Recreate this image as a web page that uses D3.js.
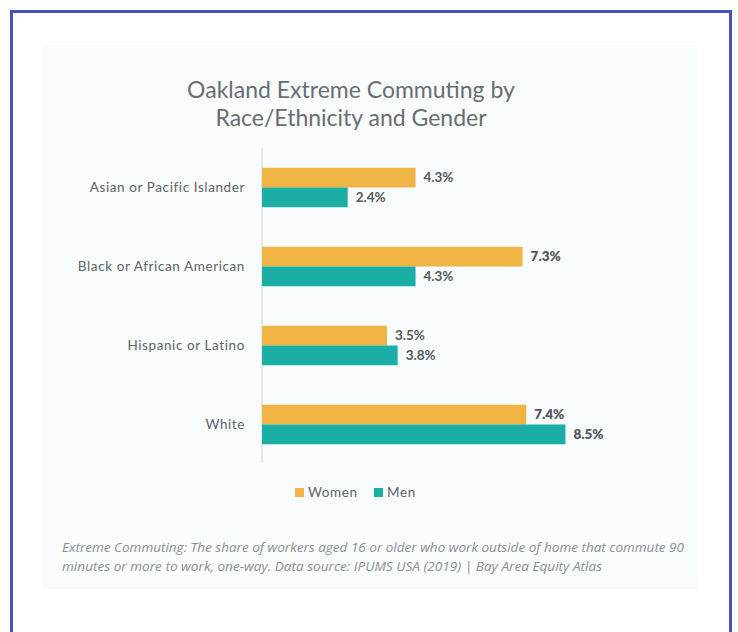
<!DOCTYPE html>
<html>
<head>
<meta charset="utf-8">
<script src="https://cdn.jsdelivr.net/npm/d3@7"></script>
<style>
  html, body { margin: 0; padding: 0; background: #ffffff; }
  svg { display: block; }
</style>
</head>
<body>
<svg id="chart" width="738" height="632"></svg>
<script>
const categories = ["Asian or Pacific Islander", "Black or African American", "Hispanic or Latino", "White"];
const seriesNames = ["Women", "Men"];
const women = [4.3, 7.3, 3.5, 7.4];
const men = [2.4, 4.3, 3.8, 8.5];
const titleLines = ["Oakland Extreme Commuting by", "Race/Ethnicity and Gender"];
const footLines = [
  "Extreme Commuting: The share of workers aged 16 or older who work outside of home that commute 90",
  "minutes or more to work, one-way. Data source: IPUMS USA (2019) | Bay Area Equity Atlas"
];

const colors = { Women: "#f0b444", Men: "#1aaea5" };
const textGray = "#606368";
const svg = d3.select("#chart");

// outer frame (open at the bottom)
svg.append("path")
  .attr("d", "M11.5,640 L11.5,11.5 L730.5,11.5 L730.5,640")
  .attr("fill", "none").attr("stroke", "#4553c2").attr("stroke-width", 3);

// light panel
svg.append("rect").attr("x", 43).attr("y", 45).attr("width", 654).attr("height", 544)
  .attr("fill", "#f8fcfd");

// title
svg.append("g").selectAll("text").data(titleLines).join("text")
  .attr("x", 351).attr("y", (d, i) => 98 + i * 28)
  .attr("text-anchor", "middle")
  .attr("font-family", "Lato, 'Noto Sans', sans-serif")
  .attr("font-size", 23).attr("fill", "#6a6d71")
  .text(d => d);

const x = d3.scaleLinear().domain([0, 10]).range([262, 619]);
const y = d3.scaleBand().domain(categories).range([148, 464]).paddingInner(0.5).paddingOuter(0.25);
const ys = d3.scaleBand().domain(seriesNames).range([0, y.bandwidth()]);

const rows = categories.map((c, i) => ({ cat: c, vals: [
  { s: "Women", v: women[i] }, { s: "Men", v: men[i] } ] }));

// axis line
svg.append("line").attr("x1", x(0)).attr("x2", x(0)).attr("y1", 148).attr("y2", 463)
  .attr("stroke", "#d9dadc").attr("stroke-width", 1.2);

// category labels via axis
const yAxis = svg.append("g").attr("transform", `translate(${x(0) - 17},0)`)
  .call(d3.axisLeft(y).tickSize(0).tickPadding(0));
yAxis.select(".domain").remove();
yAxis.selectAll("text")
  .attr("font-family", "Lato, 'Noto Sans', sans-serif")
  .attr("font-size", 13.5).attr("letter-spacing", 0.6).attr("fill", textGray);

const g = svg.append("g").selectAll("g").data(rows).join("g")
  .attr("transform", d => `translate(0,${y(d.cat)})`);

g.selectAll("rect").data(d => d.vals).join("rect")
  .attr("x", x(0)).attr("y", d => ys(d.s))
  .attr("width", d => x(d.v) - x(0)).attr("height", ys.bandwidth())
  .attr("fill", d => colors[d.s]);

g.selectAll("text").data(d => d.vals).join("text")
  .attr("x", d => x(d.v) + 8).attr("y", d => ys(d.s) + ys.bandwidth() / 2)
  .attr("dy", "0.35em")
  .attr("font-family", "Lato, 'Noto Sans', sans-serif")
  .attr("font-size", 13.5)
  .attr("font-weight", d => d.v >= 7 ? 800 : 700)
  .attr("fill", "#55585d")
  .text(d => d.v.toFixed(1) + "%");

// legend
const legend = svg.append("g");
const legX = [295, 374];
seriesNames.forEach((s, i) => {
  legend.append("rect").attr("x", legX[i]).attr("y", 488).attr("width", 9).attr("height", 9)
    .attr("fill", colors[s]);
  legend.append("text").attr("x", legX[i] + 13).attr("y", 492.5).attr("dy", "0.35em")
    .attr("font-family", "Lato, 'Noto Sans', sans-serif")
    .attr("font-size", 13.5).attr("letter-spacing", 0.6).attr("fill", textGray).text(s);
});

// footnote
svg.append("g").selectAll("text").data(footLines).join("text")
  .attr("x", 62).attr("y", (d, i) => 552 + i * 18.5)
  .attr("font-family", "'Open Sans', 'Noto Sans', sans-serif")
  .attr("font-style", "italic")
  .attr("font-size", 12.5).attr("fill", "#8b8e92")
  .attr("textLength", (d, i) => i === 0 ? 622 : 540)
  .attr("lengthAdjust", "spacingAndGlyphs")
  .text(d => d);
</script>
</body>
</html>
